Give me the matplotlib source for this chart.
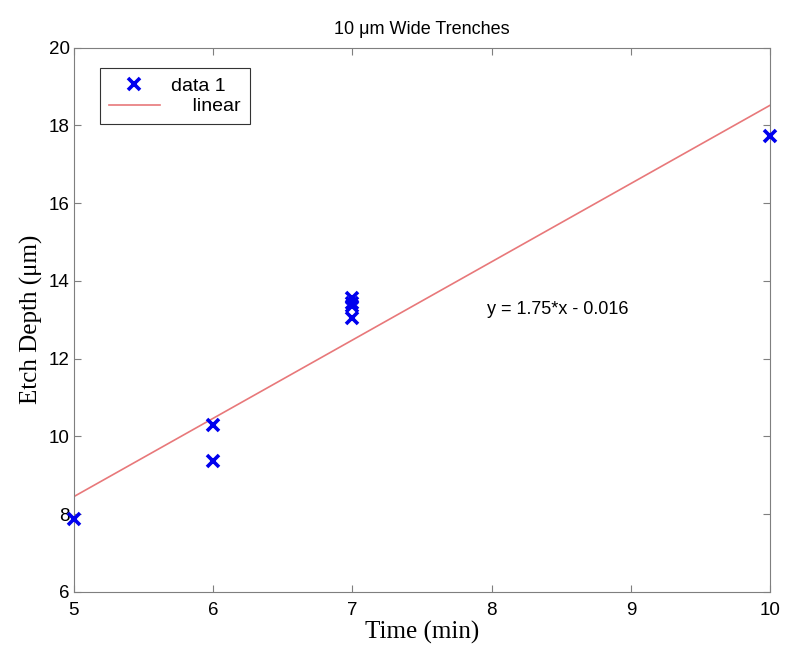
import matplotlib
matplotlib.use("Agg")
import matplotlib.pyplot as plt

# measured etch depth (um) vs time (min)
time_min = [5, 6, 6, 7, 7, 7, 7, 10]
depth_um = [7.88, 10.30, 9.37, 13.56, 13.44, 13.36, 13.05, 17.72]

# fitted line as drawn (end points)
fit_x = [5, 10]
fit_y = [8.45, 18.52]
fit_label = "y = 1.75*x - 0.016"

x_ticks = [5, 6, 7, 8, 9, 10]
y_ticks = [6, 8, 10, 12, 14, 16, 18, 20]

sans = "Liberation Sans"
serif = "Liberation Serif"
spine_gray = "#7f7f7f"

fig = plt.figure(figsize=(7.85, 6.54), dpi=100)
ax = fig.add_axes([0.094, 0.095, 0.887, 0.832])

ax.plot(time_min, depth_um, linestyle="none", marker="x", color="#0000ee",
        markersize=9, markeredgewidth=2.6, label="data 1", clip_on=False, zorder=3)
ax.plot(fit_x, fit_y, color="#e8787a", linewidth=1.2, label="    linear")
ax.text(7.97, 13.26, fit_label, fontsize=13, family=sans, va="center", ha="left")

ax.set_xlim(5, 10)
ax.set_ylim(6, 20)
ax.set_xticks(x_ticks)
ax.set_yticks(y_ticks)
ax.tick_params(direction="in", length=5, color=spine_gray, labelsize=13.5,
               top=True, right=True)
ax.tick_params(axis="x", pad=7)
ax.tick_params(axis="y", pad=3)
for lab in ax.get_xticklabels() + ax.get_yticklabels():
    lab.set_family(sans)
for sp in ax.spines.values():
    sp.set_color(spine_gray)

ax.set_title("10 \u03bcm Wide Trenches", fontsize=13, family=sans, pad=10)
ax.set_xlabel("Time (min)", fontsize=18, family=serif, labelpad=2)
ax.set_ylabel("Etch Depth (\u03bcm)", fontsize=18, family=serif, labelpad=4)

leg = ax.legend(loc="upper left", bbox_to_anchor=(0.038, 0.962), fancybox=False,
                framealpha=1, edgecolor="#333333", prop={"family": sans, "size": 14},
                handlelength=2.6, handletextpad=0.6, borderpad=0.45,
                labelspacing=0.15, borderaxespad=0)
leg.get_frame().set_linewidth(0.8)

fig.savefig("out.png", dpi=100)
